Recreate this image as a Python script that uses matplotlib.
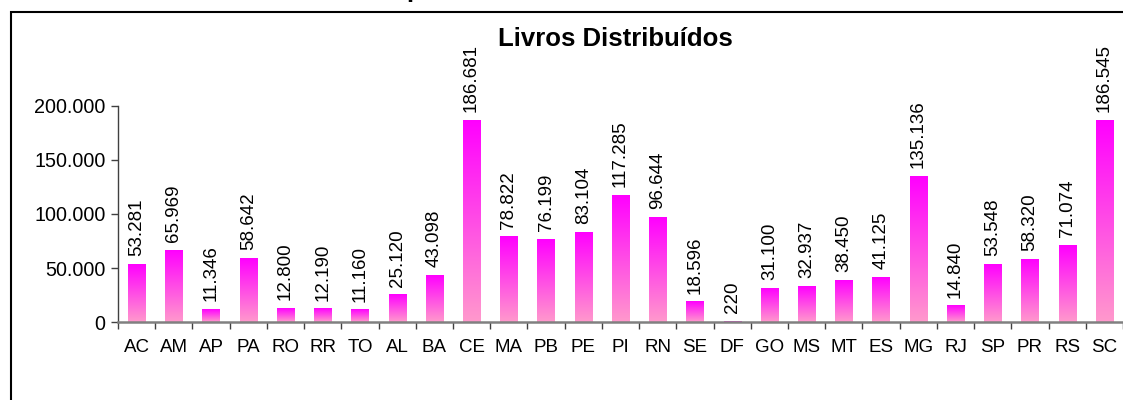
import matplotlib
matplotlib.use('Agg')
import matplotlib.pyplot as plt
import numpy as np
from matplotlib.colors import LinearSegmentedColormap
from matplotlib.ticker import FuncFormatter, MultipleLocator
from matplotlib.patches import Rectangle

# dados
estados = ['AC', 'AM', 'AP', 'PA', 'RO', 'RR', 'TO', 'AL', 'BA', 'CE', 'MA', 'PB', 'PE', 'PI',
           'RN', 'SE', 'DF', 'GO', 'MS', 'MT', 'ES', 'MG', 'RJ', 'SP', 'PR', 'RS', 'SC']
livros = [53281, 65969, 11346, 58642, 12800, 12190, 11160, 25120, 43098, 186681, 78822, 76199,
          83104, 117285, 96644, 18596, 220, 31100, 32937, 38450, 41125, 135136, 14840, 53548,
          58320, 71074, 186545]
titulo = 'Livros Distribuídos'

plt.rcParams['font.family'] = ['Liberation Sans', 'DejaVu Sans']


def fmt_pt(v, pos=None):
    # separador de milhar com ponto
    return f'{int(v):,}'.replace(',', '.')


fig = plt.figure(figsize=(11.23, 4.0), dpi=100)
ax = fig.add_axes([118 / 1123, 78 / 400, 1005 / 1123, 216 / 400])

x = np.arange(len(estados))
bars = ax.bar(x, livros, width=0.465, color='none', zorder=2)

# gradiente magenta -> rosa em cada barra
grad = LinearSegmentedColormap.from_list('rosa', ['#ff99cc', '#ff00ff'])
g = np.linspace(0, 1, 256).reshape(-1, 1)
for b in bars:
    x0 = b.get_x()
    w = b.get_width()
    h = b.get_height()
    ax.imshow(g, cmap=grad, extent=(x0, x0 + w, 0, h), origin='lower',
              aspect='auto', zorder=2, interpolation='bilinear')

for xi, v in zip(x, livros):
    ax.annotate(fmt_pt(v), (xi, v), xytext=(0, 6), textcoords='offset points',
                rotation=90, ha='center', va='bottom', fontsize=13.5)

ax.set_xlim(-0.5, len(estados) - 0.5)
ax.set_ylim(0, 200000)

ax.set_xticks(x)
ax.set_xticklabels(estados, fontsize=13.5)
ax.set_xticks(np.arange(-0.5, len(estados), 1), minor=True)
ax.tick_params(axis='x', which='major', length=0, pad=12)
ax.tick_params(axis='x', which='minor', length=5, width=1, color='#404040')

ax.yaxis.set_major_locator(MultipleLocator(50000))
ax.yaxis.set_major_formatter(FuncFormatter(fmt_pt))
ax.tick_params(axis='y', length=5, width=1, color='#404040', labelsize=14.2, pad=4)

for s in ['top', 'right']:
    ax.spines[s].set_visible(False)
ax.spines['bottom'].set_color('#808080')
ax.spines['bottom'].set_linewidth(1.8)
ax.spines['bottom'].set_zorder(3)
ax.spines['left'].set_color('#404040')
ax.spines['left'].set_linewidth(1.0)

# titulo e moldura
fig.text(615 / 1123, 1 - 46 / 400, titulo, ha='center', va='baseline',
         fontsize=18.5, fontweight='bold')
fig.text(406 / 1123, 1 + 3 / 400, 'p', ha='left', va='baseline',
         fontsize=18.5, fontweight='bold')
fig.add_artist(Rectangle((10.5 / 1123, -0.1), 1.2, 1.1 - 12 / 400,
                         transform=fig.transFigure, fill=False, lw=1.5, ec='black'))

fig.savefig('out.png', dpi=100)
